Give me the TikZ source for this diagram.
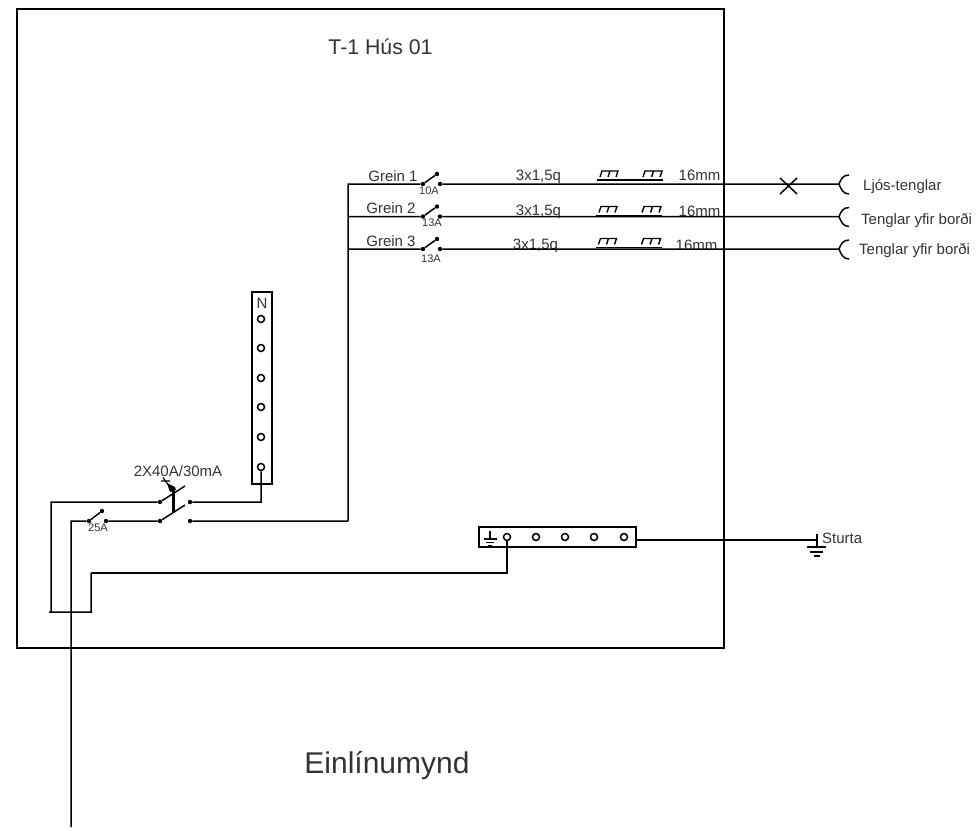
\documentclass[tikz,border=0pt]{standalone}
\usepackage{fontspec}
\setmainfont{Liberation Sans}
\usetikzlibrary{calc}
\tikzset{
	wire/.style={line width=1.5pt},
	label/.style={inner sep=0pt, font=\fontsize{15}{16}\selectfont, text=black!80},
	tiny/.style={inner sep=0pt, font=\fontsize{11}{12}\selectfont, text=black!80},
	contact/.style={circle, fill=black, inner sep=0pt, minimum size=4.4pt},
	terminal/.style={circle, draw, line width=1.5pt, fill=white, inner sep=0pt, minimum size=7pt},
	cup/.pic={\draw[wire] (10,-9) .. controls (4,-9) and (2,-5) .. (0,0) .. controls (2,5) and (4,10) .. (10,10);},
	trench/.pic={
		\draw[wire] (-2,9) -- (64,9);
		\draw[line width=1.4pt] (1,6) -- (3,0) -- (19,0) -- (17,6) (9,6) -- (11,0);
		\draw[line width=1.4pt] (44,6) -- (46,0) -- (63,0) -- (61,6) (52.5,6) -- (54.5,0);
	}
}
\begin{document}
\begin{tikzpicture}[x=1pt, y=-1pt]
	\useasboundingbox (0,0) rectangle (976,830);
	\node[draw, line width=2pt, minimum width=707pt, minimum height=639pt, inner sep=0pt] (panel) at (370.5,328.5) {};
	\node[label, font=\fontsize{21.3}{22}\selectfont] (title) at (380.5,47) {T-1 Hús 01};
	\node[label, font=\fontsize{30}{32}\selectfont] (caption) at (387,766) {Einlínumynd};

	% greinar
	\node[label] at (393,176) (grein1) {Grein 1};
	\node[label] at (391,208) (grein2) {Grein 2};
	\node[label] at (391,241) (grein3) {Grein 3};
	\node[tiny] at (429,191) (amp1) {10A};
	\node[tiny] at (432,223) (amp2) {13A};
	\node[tiny] at (431,259) (amp3) {13A};
	\node[label] at (538.5,176.5) (cable1) {3x1,5q};
	\node[label] at (538.5,212) (cable2) {3x1,5q};
	\node[label] at (535.5,246) (cable3) {3x1,5q};
	\node[label] at (699.5,175) (pipe1) {16mm};
	\node[label] at (699.5,211) (pipe2) {16mm};
	\node[label] at (696.5,245.5) (pipe3) {16mm};
	\node[label, anchor=west] at (863,186.5) (load1) {Ljós-tenglar};
	\node[label, anchor=west] at (861,220.5) (load2) {Tenglar yfir borði};
	\node[label, anchor=west] at (859,251) (load3) {Tenglar yfir borði};

	\coordinate (riser) at (348,521);
	\coordinate (tap1) at (348,184);
	\coordinate (tap2) at (348,216.5);
	\coordinate (tap3) at (348,249);
	\coordinate (end1) at (839,184);
	\coordinate (end2) at (839,216.5);
	\coordinate (end3) at (839,249);
	\node[contact] at (423,184) (in1) {};
	\node[contact] at (423,216.5) (in2) {};
	\node[contact] at (423,249) (in3) {};
	\node[contact] at (440,184) (out1) {};
	\node[contact] at (440,216.5) (out2) {};
	\node[contact] at (440,249) (out3) {};
	\node[contact] at (437,174) (arm1) {};
	\node[contact] at (437,206.5) (arm2) {};
	\node[contact] at (437,239) (arm3) {};
	\draw[wire]
	(riser) -- (tap1) -- (in1)
	(tap2) -- (in2)
	(tap3) -- (in3)
	(in1) -- (arm1)
	(in2) -- (arm2)
	(in3) -- (arm3)
	(out1) -- (end1)
	(out2) -- (end2)
	(out3) -- (end3);
	\pic at (599,171) {trench};
	\pic at (598,206.5) {trench};
	\pic at (597.5,238.5) {trench};
	\pic at (end1) {cup};
	\pic at (end2) {cup};
	\pic at (end3) {cup};
	\draw[wire] (780,178) -- (797,194) (780,194) -- (797,178);

	% N skinna
	\node[draw, line width=1.5pt, minimum width=20pt, minimum height=192pt, inner sep=0pt] (nbar) at (262,388) {};
	\node[label] at (262,303) (nlabel) {N};
	\node[terminal] at (261,319) (n1) {};
	\node[terminal] at (261,348) (n2) {};
	\node[terminal] at (261,378) (n3) {};
	\node[terminal] at (261,407) (n4) {};
	\node[terminal] at (261,437) (n5) {};
	\node[terminal] at (261,467) (n6) {};

	% lekaliði
	\node[label] at (178,471) (rcd) {2X40A/30mA};
	\node[contact] at (160,502) (rcdin1) {};
	\node[contact] at (160,521) (rcdin2) {};
	\node[contact] at (190,502) (rcdout1) {};
	\node[contact] at (190,521) (rcdout2) {};
	\coordinate (rcdarm1) at (185,486);
	\coordinate (rcdarm2) at (185,505);
	\coordinate (linkup) at (173,491);
	\coordinate (linkdown) at (173,513);
	\coordinate (feedcorner) at (51,502);
	\coordinate (buswest) at (51,612);
	\coordinate (nturn) at (261,502);
	\draw[wire]
	(n6) -- (nturn) -- (rcdout1)
	(rcdout2) -- (riser)
	(rcdin1) -- (rcdarm1)
	(rcdin2) -- (rcdarm2)
	(rcdin1) -- (feedcorner) -- (buswest);
	\draw[line width=3pt] (linkup) -- (linkdown);
	\fill (167,483) -- (175,487) -- (176,490) -- (170,492) -- cycle;
	\draw[line width=1.2pt] (161,481) -- (170,481) (163,477.5) -- (168,484.5);

	% 25A
	\node[contact] at (89,521) (mcbin) {};
	\node[contact] at (106,521) (mcbout) {};
	\node[contact] at (102,511) (mcbarm) {};
	\node[tiny] at (98,528) (mcbamp) {25A};
	\coordinate (feedturn) at (71,521);
	\coordinate (feedend) at (71,827);
	\coordinate (busleft) at (49,612);
	\coordinate (busright) at (92,612);
	\coordinate (peturn) at (91,573);
	\coordinate (pefoot) at (91,612);
	\draw[wire]
	(feedend) -- (feedturn) -- (mcbin)
	(mcbin) -- (mcbarm)
	(mcbout) -- (rcdin2)
	(busleft) -- (busright)
	(pefoot) -- (peturn);

	% jarðskinna
	\node[draw, line width=1.5pt, minimum width=157pt, minimum height=20pt, inner sep=0pt] (pebar) at (557.5,537) {};
	\node[terminal] at (507,537) (pe1) {};
	\node[terminal] at (536,537) (pe2) {};
	\node[terminal] at (565,537) (pe3) {};
	\node[terminal] at (594,537) (pe4) {};
	\node[terminal] at (624,537) (pe5) {};
	\coordinate (peelbow) at (507,573);
	\coordinate (earth) at (817,540);
	\draw[wire]
	(pe1) -- (peelbow) -- (peturn)
	(pebar.east |- earth) -- (earth);
	\draw[line width=1.3pt]
	(490,531) -- (490,539)
	(484,539) -- (497,539)
	(486,542.5) -- (494,542.5)
	(488,546) -- (492,546)
	(817,534) -- (817,547)
	(807,547) -- (826,547)
	(810,552) -- (823,552)
	(814,556) -- (820,556);
	\node[label, anchor=west] at (822,538.5) (shower) {Sturta};
\end{tikzpicture}
\end{document}
